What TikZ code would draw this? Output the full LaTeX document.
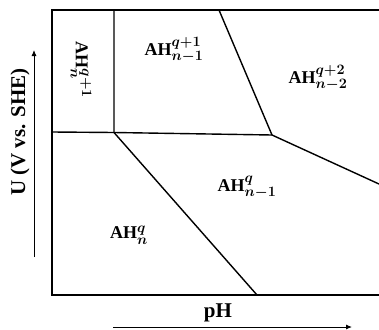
\documentclass[tikz,border=0pt]{standalone}
\usepackage{fontspec}
\setmainfont{Liberation Serif}
\usetikzlibrary{arrows.meta}
\DeclareMathSizes{18}{18}{13.5}{10}
\tikzset{
  plotframe/.style={line width=2.4pt,line cap=rect},
  boundary/.style={line width=1.4pt},
  phase/.style={inner sep=0pt,font=\fontsize{18}{21}\selectfont\boldmath},
  axislabel/.style={inner sep=0pt,font=\fontsize{21}{24}\selectfont\bfseries},
  axisarrow/.style={-{Latex[length=6pt,width=5pt]},line width=.9pt}
}
\begin{document}
\begin{tikzpicture}[x=1pt,y=-1pt]
\useasboundingbox (0,0) rectangle (379,329);

% frame of the diagram
\coordinate (topright) at (379,10);
\coordinate (topleft) at (52,10);
\coordinate (botleft) at (52,295);
\coordinate (botright) at (379,295);
\draw[plotframe] (topright) -- (topleft) -- (botleft) -- (botright);

% points on the phase boundaries
\coordinate (leftmid) at (52,132);
\coordinate (tleft) at (114,132.5);
\coordinate (tright) at (272,135);
\coordinate (topa) at (114,10);
\coordinate (topb) at (219,10);
\coordinate (rightend) at (379,184);
\coordinate (botend) at (257,295);

\draw[boundary] (leftmid) -- (tleft) -- (tright) -- (rightend);
\draw[boundary] (topa) -- (tleft) -- (botend);
\draw[boundary] (topb) -- (tright);

% phases
\node[phase,rotate=-90] (ahnq1) at (81,70) {$\mathrm{AH}_{n}^{q+1}$};
\node[phase] (ahn1q1) at (174,50) {$\mathrm{AH}_{n-1}^{q+1}$};
\node[phase] (ahn2q2) at (318,78) {$\mathrm{AH}_{n-2}^{q+2}$};
\node[phase] (ahn1q) at (247,187) {$\mathrm{AH}_{n-1}^{q}$};
\node[phase] (ahnq) at (129,235) {$\mathrm{AH}_{n}^{q}$};

% axes
\coordinate (ybot) at (34,257);
\coordinate (ytop) at (34,50);
\draw[axisarrow] (ybot) -- (ytop);
\node[axislabel,rotate=90] (ulabel) at (20,132) {U (V vs. SHE)};

\coordinate (xleft) at (113,327);
\coordinate (xright) at (352,327);
\draw[axisarrow] (xleft) -- (xright);
\node[axislabel] (phlabel) at (218,313) {pH};
\end{tikzpicture}
\end{document}
